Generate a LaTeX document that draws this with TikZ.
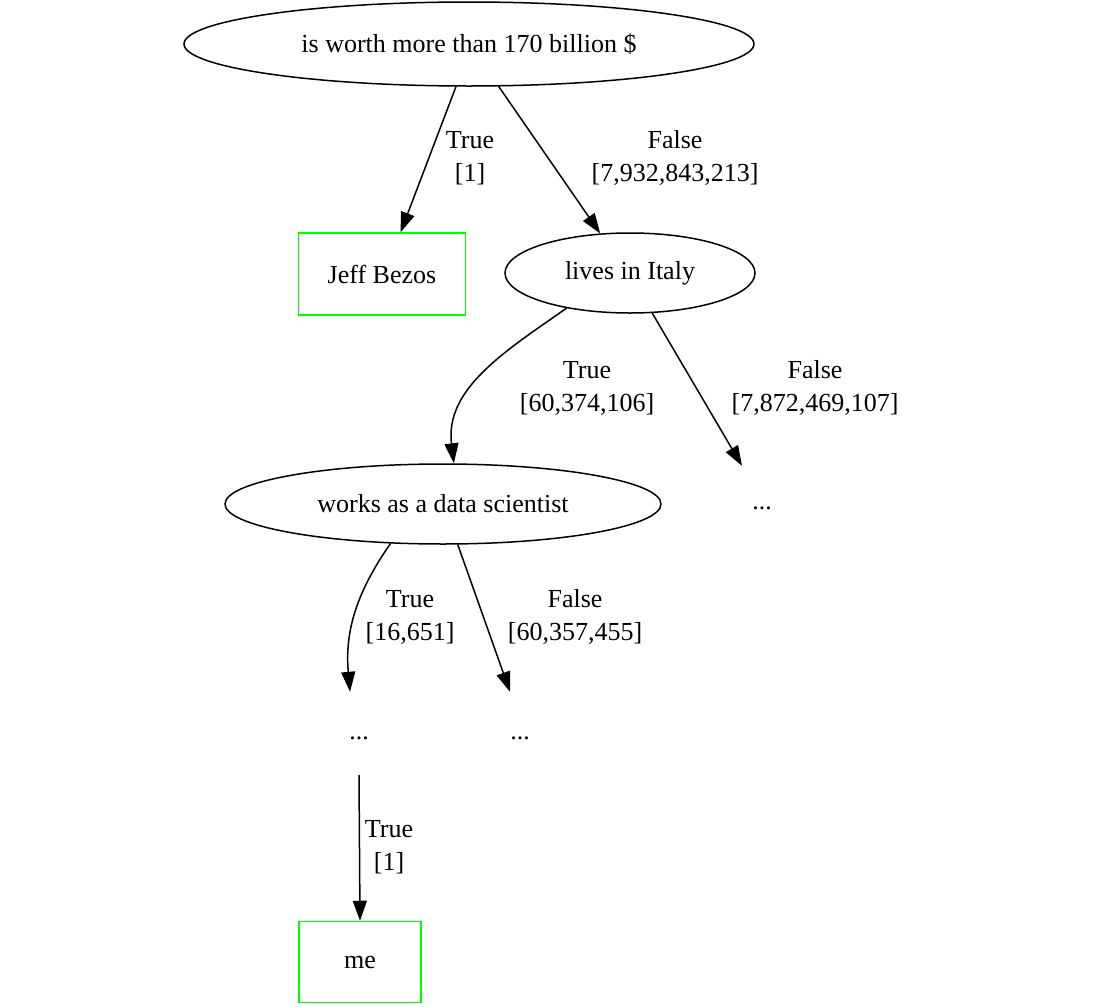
\documentclass[tikz,border=0pt]{standalone}
\usepackage{fontspec}
\setmainfont{Liberation Serif}
\usetikzlibrary{shapes.geometric,arrows.meta,calc}
\begin{document}
\begin{tikzpicture}[x=1pt,y=-1pt,
  every node/.style={font=\fontsize{26}{33}\selectfont, inner sep=0pt},
  ell/.style={draw, line width=1.5pt, ellipse},
  leaf/.style={draw=green, line width=1.5pt, rectangle},
  dots/.style={minimum width=80pt},
  lab/.style={align=center},
  edge/.style={line width=1.5pt, -{Triangle[length=20pt,width=14pt]}}]
\useasboundingbox (0,0) rectangle (1104,1007);
\node[ell, minimum width=570pt, minimum height=84pt] (root) at (469,44) {is worth more than 170 billion \$};
\node[leaf, minimum width=167pt, minimum height=82pt] (jeff) at (382,274) {Jeff Bezos};
\node[ell, minimum width=250pt, minimum height=80pt] (italy) at (630,273) {lives in Italy};
\node[ell, minimum width=436pt, minimum height=80pt] (ds) at (443,504) {works as a data scientist};
\node[dots, minimum height=84pt] (d1) at (762,508) {...};
\node[dots, minimum height=92pt] (d2) at (359,738) {...};
\node[dots, minimum height=92pt] (d3) at (520,738) {...};
\node[leaf, minimum width=122pt, minimum height=81pt] (me) at (360,962) {me};

\draw[edge] (root.-107) -- (jeff.66);
\node[lab] at (470,158) {True\\{}[1]};
\draw[edge] (root.-55) -- (italy.127);
\node[lab] at (675,158) {False\\{}[7,932,843,213]};
\draw[edge] (italy.-151) to[out=-145,in=97] (ds.75);
\node[lab] at (587,388) {True\\{}[60,374,106]};
\draw[edge] (italy.-61) -- ($(d1.north)+(-20,0)$);
\node[lab] at (815,388) {False\\{}[7,872,469,107]};
\draw[edge] (ds.-143) to[out=-125,in=95] ($(d2.north)+(-9,0)$);
\node[lab] at (410,617) {True\\{}[16,651]};
\draw[edge] (ds.-70) -- ($(d3.north)+(-10,0)$);
\node[lab] at (575,617) {False\\{}[60,357,455]};
\draw[edge] ($(d2.south)+(0,-9)$) -- (me.north);
\node[lab] at (389,847) {True\\{}[1]};
\end{tikzpicture}
\end{document}
